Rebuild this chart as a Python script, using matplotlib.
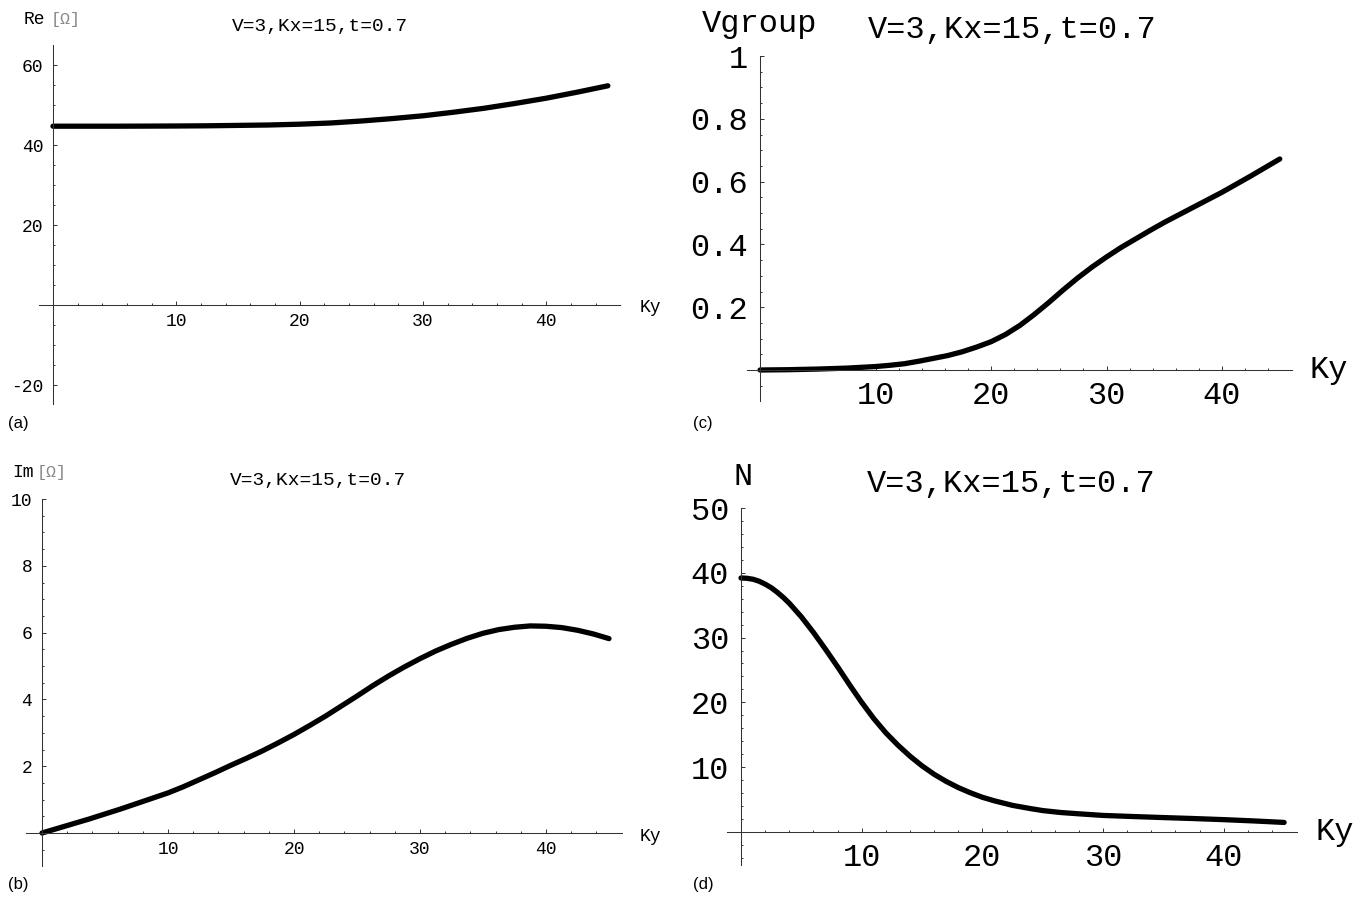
import matplotlib
matplotlib.use("Agg")
import matplotlib.pyplot as plt
import numpy as np

W, H = 1360, 898
MONO = "Liberation Mono"
SANS = "Liberation Sans"

# --- data ---
ky_re = [0, 2.5, 5, 7.5, 10, 12.5, 15, 17.5, 20, 22.5, 25, 27.5, 30, 32.5, 35, 37.5, 40, 42.5, 45]
re_z = [44.7, 44.7, 44.7, 44.72, 44.75, 44.8, 44.9, 45.0, 45.2, 45.5, 46.0, 46.6, 47.3, 48.2, 49.2, 50.4, 51.7, 53.2, 54.8]

ky_im = [0, 1.25, 2.5, 3.75, 5, 6.25, 7.5, 8.75, 10, 11.25, 12.5, 13.75, 15, 16.25, 17.5, 18.75,
         20, 21.25, 22.5, 23.75, 25, 26.25, 27.5, 28.75, 30, 31.25, 32.5, 33.75, 35, 36.25,
         37.5, 38.75, 40, 41.25, 42.5, 43.75, 45]
im_z = [0, 0.14, 0.28, 0.42, 0.57, 0.72, 0.88, 1.04, 1.2, 1.39, 1.6, 1.81, 2.03, 2.24, 2.46, 2.7,
        2.95, 3.22, 3.5, 3.8, 4.1, 4.41, 4.7, 4.97, 5.22, 5.45, 5.65, 5.83, 5.98, 6.09,
        6.16, 6.2, 6.19, 6.15, 6.07, 5.96, 5.82]

ky_vg = [0, 2.5, 5, 7.5, 10, 11.25, 12.5, 13.75, 15, 16.25, 17.5, 18.75, 20, 21.25, 22.5, 23.75,
         25, 26.25, 27.5, 28.75, 30, 31.25, 32.5, 33.75, 35, 36.25, 37.5, 38.75, 40, 41.25,
         42.5, 43.75, 45]
vgroup = [0, 0.001, 0.003, 0.006, 0.011, 0.015, 0.02, 0.028, 0.037, 0.046, 0.058, 0.073, 0.09,
          0.113, 0.142, 0.177, 0.215, 0.255, 0.293, 0.328, 0.36, 0.39, 0.417, 0.444, 0.47,
          0.494, 0.518, 0.542, 0.566, 0.592, 0.618, 0.645, 0.672]

ky_n = [0, 0.5, 1, 1.5, 2, 2.5, 3, 3.5, 4, 5, 6, 7, 8, 9, 10, 11, 12, 13, 14, 15, 16, 17, 18, 19,
        20, 21, 22.5, 24, 25, 26.5, 28, 30, 32.5, 35, 37.5, 40, 42.5, 45]
n_val = [39.2, 39.15, 39.0, 38.7, 38.25, 37.7, 37.0, 36.2, 35.3, 33.2, 30.8, 28.2, 25.5, 22.7,
         20.0, 17.5, 15.3, 13.4, 11.7, 10.2, 8.9, 7.8, 6.85, 6.05, 5.35, 4.8, 4.1, 3.6, 3.3,
         3.0, 2.8, 2.55, 2.38, 2.22, 2.07, 1.9, 1.7, 1.47]

title = "V=3,Kx=15,t=0.7"

fig = plt.figure(figsize=(W / 100, H / 100), dpi=100)


def px_axes(left, right, top, bottom):
    return fig.add_axes([left / W, 1 - bottom / H, (right - left) / W, (bottom - top) / H])


def ftext(x, y, s, **kw):
    fig.text(x / W, 1 - y / H, s, **kw)


def style(ax, xlim, ylim, xmaj, xmin, ymaj, ymin, ylabels, fs, xpad, ypad):
    ax.set_xlim(*xlim)
    ax.set_ylim(*ylim)
    for s in ("top", "right"):
        ax.spines[s].set_visible(False)
    for s in ("left", "bottom"):
        ax.spines[s].set_position(("data", 0))
        ax.spines[s].set_color("#333333")
        ax.spines[s].set_linewidth(0.75)
    ax.set_xticks(xmaj, [str(v) for v in xmaj], fontfamily=MONO, fontsize=fs)
    ax.set_xticks(xmin, minor=True)
    ax.set_yticks(ymaj, ylabels, fontfamily=MONO, fontsize=fs)
    ax.set_yticks(ymin, minor=True)
    ax.tick_params(which="both", direction="in", color="#333333", width=0.7)
    ax.tick_params(which="major", length=3.0)
    ax.tick_params(which="minor", length=1.7)
    ax.tick_params(axis="x", which="major", pad=xpad)
    ax.tick_params(axis="y", which="major", pad=ypad)
    ax.patch.set_visible(False)


def curve(ax, x, y):
    ax.plot(x, y, color="black", lw=3.8, solid_capstyle="round", solid_joinstyle="round")


xmaj = [10, 20, 30, 40]
xmin = [v for v in range(2, 46, 2) if v % 10 != 0]

# (a) real part
ax_a = px_axes(38.8, 620.2, 45, 404)
curve(ax_a, ky_re, re_z)
style(ax_a, (-1.15, 46), (-24.75, 65), xmaj, xmin,
      [-20, 20, 40, 60], [v for v in range(-20, 65, 5) if v % 20 != 0],
      ["-20", "20", "40", "60"], 13, 5.5, 7)

# (b) imaginary part
ax_b = px_axes(25.9, 621.6, 499, 866.4)
curve(ax_b, ky_im, im_z)
style(ax_b, (-1.28, 46), (-1.0, 10), xmaj, xmin,
      [2, 4, 6, 8, 10], [v / 2 for v in range(-1, 21) if v % 4 != 0],
      ["2", "4", "6", "8", "10"], 13, 5.5, 7)

# (c) group velocity
ax_c = px_axes(747, 1292, 56, 401.4)
curve(ax_c, ky_vg, vgroup)
style(ax_c, (-1.13, 46.06), (-0.1, 1.0), xmaj, xmin,
      [0.2, 0.4, 0.6, 0.8, 1.0], [v / 20 for v in range(-1, 21) if v % 4 != 0],
      ["0.2", "0.4", "0.6", "0.8", "1"], 23, 8, 8.5)

# (d) N
ax_d = px_axes(727, 1297.4, 508, 865)
curve(ax_d, ky_n, n_val)
style(ax_d, (-1.16, 46.1), (-5.1, 50), xmaj, xmin,
      [10, 20, 30, 40, 50], [v for v in range(-4, 51, 2) if v % 10 != 0],
      ["10", "20", "30", "40", "50"], 23, 8, 8.5)

# axis labels, titles and panel letters
ftext(24, 24, "Re", fontfamily=MONO, fontsize=13, va="baseline")
ftext(51, 24, "[Ω]", fontfamily=MONO, fontsize=12, va="baseline", color="#888888")
ftext(320, 31, title, fontfamily=MONO, fontsize=14, ha="center", va="baseline")
ftext(640, 312, "Ky", fontfamily=MONO, fontsize=13, va="baseline")
ftext(8, 423, "(a)", fontfamily=SANS, fontsize=12, va="center")

ftext(12, 477, "Im", fontfamily=MONO, fontsize=13, va="baseline")
ftext(37, 477, "[Ω]", fontfamily=MONO, fontsize=12, va="baseline", color="#888888")
ftext(318, 485, title, fontfamily=MONO, fontsize=14, ha="center", va="baseline")
ftext(640, 841, "Ky", fontfamily=MONO, fontsize=13, va="baseline")
ftext(8, 885, "(b)", fontfamily=SANS, fontsize=12, va="center")

ftext(702, 32, "Vgroup", fontfamily=MONO, fontsize=23, va="baseline")
ftext(1012, 38, title, fontfamily=MONO, fontsize=23, ha="center", va="baseline")
ftext(1309, 378, "Ky", fontfamily=MONO, fontsize=23, va="baseline")
ftext(693, 423, "(c)", fontfamily=SANS, fontsize=12, va="center")

ftext(733, 485, "N", fontfamily=MONO, fontsize=23, va="baseline")
ftext(1011, 492, title, fontfamily=MONO, fontsize=23, ha="center", va="baseline")
ftext(1316, 840, "Ky", fontfamily=MONO, fontsize=23, va="baseline")
ftext(693, 885, "(d)", fontfamily=SANS, fontsize=12, va="center")

fig.savefig("out.png", dpi=100)
